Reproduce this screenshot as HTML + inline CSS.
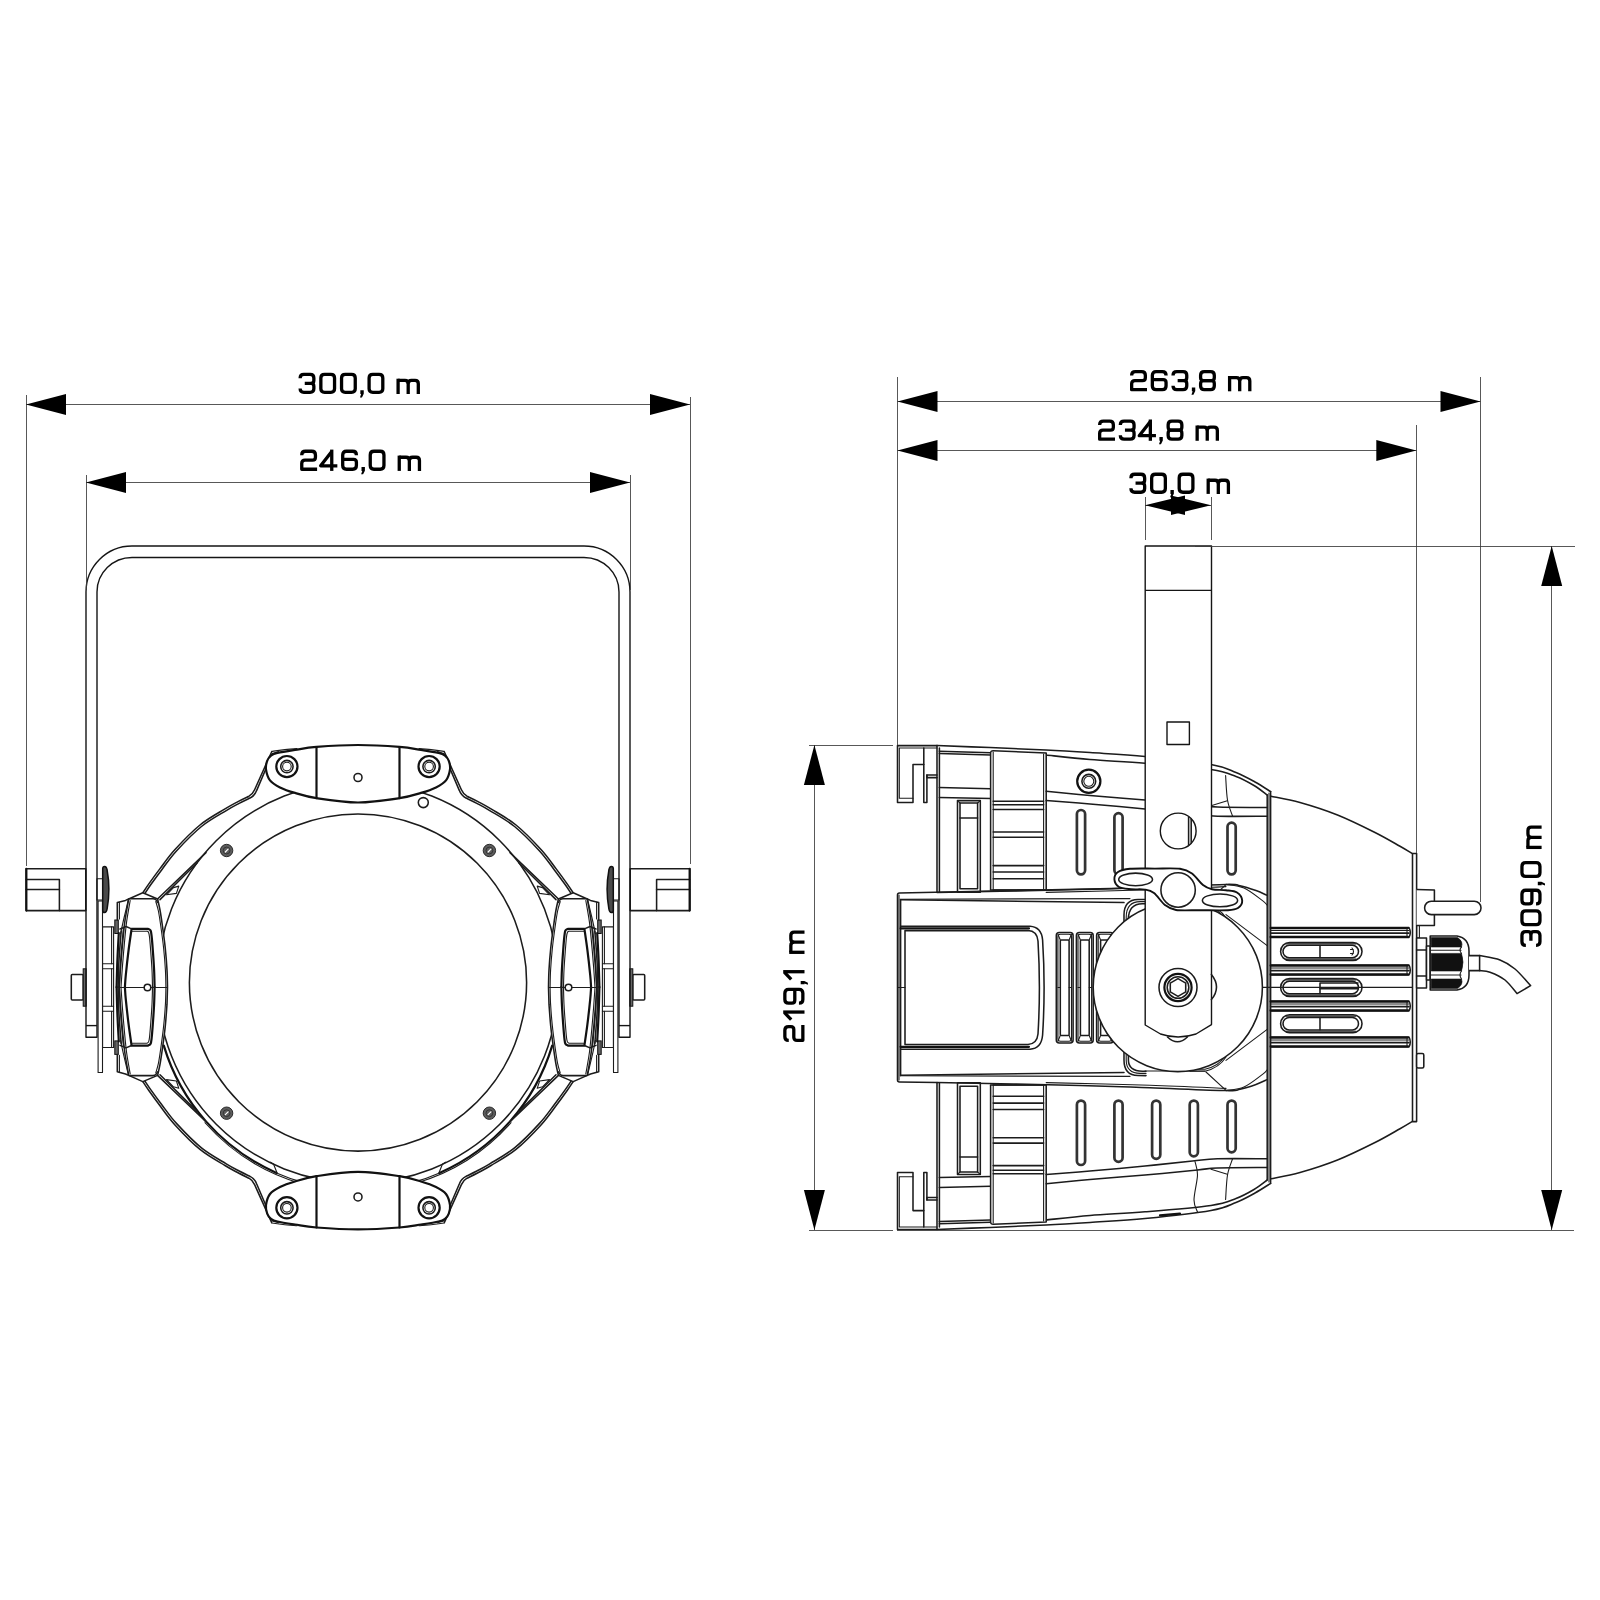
<!DOCTYPE html>
<html><head><meta charset="utf-8"><title>Dimensions</title><style>
html,body{margin:0;padding:0;background:#fff}
svg{display:block}
.m{fill:none;stroke:#1c1c1c;stroke-width:1.55;stroke-linejoin:round;stroke-linecap:round}
.t{fill:none;stroke:#1c1c1c;stroke-width:1.1;stroke-linejoin:round;stroke-linecap:round}
.k{fill:none;stroke:#111;stroke-width:2.2;stroke-linejoin:round;stroke-linecap:round}
.w{fill:#fff;stroke:#1c1c1c;stroke-width:1.55;stroke-linejoin:round}
.wk{fill:#fff;stroke:#111;stroke-width:2.2;stroke-linejoin:round}
.wt{fill:#fff;stroke:#1c1c1c;stroke-width:1.1;stroke-linejoin:round}
.g{fill:#666;stroke:#111;stroke-width:1}
.b{fill:#111;stroke:#111;stroke-width:.6}
.d{fill:none;stroke:#3a3a3a;stroke-width:.85}
.y{fill:none;stroke:#151515;stroke-width:1.4;stroke-linejoin:round}
.wy{fill:#fff;stroke:#151515;stroke-width:1.4;stroke-linejoin:round}
.a{fill:#000;stroke:none}
.s{fill:#fff;stroke:#333;stroke-width:2.7}
.n{fill:#fff;stroke:none}
.gl{fill:none;stroke:#000;stroke-width:3.3;stroke-linejoin:round;stroke-linecap:butt}
text{font-family:"Liberation Sans",sans-serif;font-size:31px;fill:#000;stroke:#000;stroke-width:.45}
</style></head>
<body>
<svg width="1600" height="1600" viewBox="0 0 1600 1600">
<rect class="n" x="0" y="0" width="1600" height="1600"/>
<g id="left-view">
<circle class="m" cx="358" cy="982.5" r="200.5"/>
<circle class="m" cx="358" cy="982.5" r="168.6"/>
<path class="k" d="M163.8,1045.63 A202.8,202.8 0 0 0 276.5,1172.9"/>
<path class="t" d="M276.5,1172.9 A202.8,202.8 0 0 0 303,1182.4"/>
<path class="t" d="M205,1122.74 A204.4,204.4 0 0 0 300,1183.2"/>
<path class="t" d="M273.6,1164.3 L277,1172.8"/>
<path class="t" d="M270.5,1162.2 L273.6,1164.3"/>
<path class="k" d="M552.2,1045.63 A202.8,202.8 0 0 1 439.5,1172.9"/>
<path class="t" d="M439.5,1172.9 A202.8,202.8 0 0 1 413,1182.4"/>
<path class="t" d="M511,1122.74 A204.4,204.4 0 0 1 416,1183.2"/>
<path class="t" d="M442.4,1164.3 L439,1172.8"/>
<path class="t" d="M445.5,1162.2 L442.4,1164.3"/>
<g><path class="m" d="M271.6,752 L254.6,789.8 Q252.8,794 249,796.2 C247.17,797.1 242,799.48 238,801.6 C234,803.72 231.33,805 225,808.9 C218.67,812.8 208.33,818.23 200,825 C191.67,831.77 181.67,842.23 175,849.5 C168.33,856.77 164.33,862.92 160,868.6 C155.67,874.28 151.87,879.57 149,883.6 C146.13,887.63 143.83,891.27 142.8,892.8"/>
<path class="m" d="M272.4,753.6 L256.6,790.6 Q254.8,795.6 250.04,798.02 C248.22,798.91 243.1,801.27 239.14,803.36 C235.18,805.46 232.53,806.73 226.26,810.58 C219.98,814.44 209.73,819.81 201.47,826.5 C193.2,833.2 183.29,843.57 176.68,850.76 C170.07,857.96 166.1,864.05 161.8,869.68 C157.5,875.31 153.73,880.54 150.88,884.53 C148.04,888.53 145.75,892.13 144.72,893.64"/>
<path class="t" d="M271.6,751.4 C273.5,751.15 278.77,750.37 283,749.9 C287.23,749.43 294.67,748.82 297,748.6"/>
<path class="t" d="M273.2,753.2 L278.5,751.6"/>
<path class="m" d="M157.8,898.8 L206,852.6"/>
<path class="m" d="M160,899.6 L197,863"/>
<path class="t" d="M166.5,894.8 L173.5,887.6 L178.8,886.1 L176.4,893.4Z"/></g>
<g transform="translate(716,0) scale(-1,1)"><path class="m" d="M271.6,752 L254.6,789.8 Q252.8,794 249,796.2 C247.17,797.1 242,799.48 238,801.6 C234,803.72 231.33,805 225,808.9 C218.67,812.8 208.33,818.23 200,825 C191.67,831.77 181.67,842.23 175,849.5 C168.33,856.77 164.33,862.92 160,868.6 C155.67,874.28 151.87,879.57 149,883.6 C146.13,887.63 143.83,891.27 142.8,892.8"/>
<path class="m" d="M272.4,753.6 L256.6,790.6 Q254.8,795.6 250.04,798.02 C248.22,798.91 243.1,801.27 239.14,803.36 C235.18,805.46 232.53,806.73 226.26,810.58 C219.98,814.44 209.73,819.81 201.47,826.5 C193.2,833.2 183.29,843.57 176.68,850.76 C170.07,857.96 166.1,864.05 161.8,869.68 C157.5,875.31 153.73,880.54 150.88,884.53 C148.04,888.53 145.75,892.13 144.72,893.64"/>
<path class="t" d="M271.6,751.4 C273.5,751.15 278.77,750.37 283,749.9 C287.23,749.43 294.67,748.82 297,748.6"/>
<path class="t" d="M273.2,753.2 L278.5,751.6"/>
<path class="m" d="M157.8,898.8 L206,852.6"/>
<path class="m" d="M160,899.6 L197,863"/>
<path class="t" d="M166.5,894.8 L173.5,887.6 L178.8,886.1 L176.4,893.4Z"/></g>
<g transform="translate(0,1974.4) scale(1,-1)"><path class="m" d="M271.6,752 L254.6,789.8 Q252.8,794 249,796.2 C247.17,797.1 242,799.48 238,801.6 C234,803.72 231.33,805 225,808.9 C218.67,812.8 208.33,818.23 200,825 C191.67,831.77 181.67,842.23 175,849.5 C168.33,856.77 164.33,862.92 160,868.6 C155.67,874.28 151.87,879.57 149,883.6 C146.13,887.63 143.83,891.27 142.8,892.8"/>
<path class="m" d="M272.4,753.6 L256.6,790.6 Q254.8,795.6 250.04,798.02 C248.22,798.91 243.1,801.27 239.14,803.36 C235.18,805.46 232.53,806.73 226.26,810.58 C219.98,814.44 209.73,819.81 201.47,826.5 C193.2,833.2 183.29,843.57 176.68,850.76 C170.07,857.96 166.1,864.05 161.8,869.68 C157.5,875.31 153.73,880.54 150.88,884.53 C148.04,888.53 145.75,892.13 144.72,893.64"/>
<path class="t" d="M271.6,751.4 C273.5,751.15 278.77,750.37 283,749.9 C287.23,749.43 294.67,748.82 297,748.6"/>
<path class="t" d="M273.2,753.2 L278.5,751.6"/>
<path class="m" d="M157.8,898.8 L206,852.6"/>
<path class="m" d="M160,899.6 L197,863"/>
<path class="t" d="M166.5,894.8 L173.5,887.6 L178.8,886.1 L176.4,893.4Z"/></g>
<g transform="translate(716,1974.4) scale(-1,-1)"><path class="m" d="M271.6,752 L254.6,789.8 Q252.8,794 249,796.2 C247.17,797.1 242,799.48 238,801.6 C234,803.72 231.33,805 225,808.9 C218.67,812.8 208.33,818.23 200,825 C191.67,831.77 181.67,842.23 175,849.5 C168.33,856.77 164.33,862.92 160,868.6 C155.67,874.28 151.87,879.57 149,883.6 C146.13,887.63 143.83,891.27 142.8,892.8"/>
<path class="m" d="M272.4,753.6 L256.6,790.6 Q254.8,795.6 250.04,798.02 C248.22,798.91 243.1,801.27 239.14,803.36 C235.18,805.46 232.53,806.73 226.26,810.58 C219.98,814.44 209.73,819.81 201.47,826.5 C193.2,833.2 183.29,843.57 176.68,850.76 C170.07,857.96 166.1,864.05 161.8,869.68 C157.5,875.31 153.73,880.54 150.88,884.53 C148.04,888.53 145.75,892.13 144.72,893.64"/>
<path class="t" d="M271.6,751.4 C273.5,751.15 278.77,750.37 283,749.9 C287.23,749.43 294.67,748.82 297,748.6"/>
<path class="t" d="M273.2,753.2 L278.5,751.6"/>
<path class="m" d="M157.8,898.8 L206,852.6"/>
<path class="m" d="M160,899.6 L197,863"/>
<path class="t" d="M166.5,894.8 L173.5,887.6 L178.8,886.1 L176.4,893.4Z"/></g>
<g><path class="wk" d="M358,745 C344.17,745 327,746.08 316.5,746.9 C306,747.72 301.5,748.9 295,749.9 C288.5,750.9 281.5,751.95 277.5,752.9 C273.5,753.85 272.72,754.28 271,755.6 C269.28,756.92 268.03,758.5 267.2,760.8 C266.37,763.1 265.53,766.13 266,769.4 C266.47,772.67 267.67,777.4 270,780.4 C272.33,783.4 275.83,785.32 280,787.4 C284.17,789.48 288.92,791.1 295,792.9 C301.08,794.7 306,796.6 316.5,798.2 C327,799.8 344.17,802.5 358,802.5 C371.83,802.5 389,799.8 399.5,798.2 C410,796.6 414.92,794.7 421,792.9 C427.08,791.1 431.83,789.48 436,787.4 C440.17,785.32 443.67,783.4 446,780.4 C448.33,777.4 449.53,772.67 450,769.4 C450.47,766.13 449.63,763.1 448.8,760.8 C447.97,758.5 446.72,756.92 445,755.6 C443.28,754.28 442.5,753.85 438.5,752.9 C434.5,751.95 427.5,750.9 421,749.9 C414.5,748.9 410,747.72 399.5,746.9 C389,746.08 371.83,745 358,745Z"/>
<path class="k" d="M316.5,747 L316.5,798.2"/>
<path class="k" d="M399.5,747 L399.5,798.2"/>
<circle class="k" cx="286.9" cy="766.6" r="10.6"/>
<circle class="m" cx="286.9" cy="766.6" r="6.2"/>
<circle class="t" cx="286.9" cy="766.6" r="4.3"/>
<circle class="k" cx="429.1" cy="766.6" r="10.6"/>
<circle class="m" cx="429.1" cy="766.6" r="6.2"/>
<circle class="t" cx="429.1" cy="766.6" r="4.3"/>
<circle class="m" cx="358" cy="777.5" r="4"/></g>
<g transform="translate(0,1974.4) scale(1,-1)"><path class="wk" d="M358,745 C344.17,745 327,746.08 316.5,746.9 C306,747.72 301.5,748.9 295,749.9 C288.5,750.9 281.5,751.95 277.5,752.9 C273.5,753.85 272.72,754.28 271,755.6 C269.28,756.92 268.03,758.5 267.2,760.8 C266.37,763.1 265.53,766.13 266,769.4 C266.47,772.67 267.67,777.4 270,780.4 C272.33,783.4 275.83,785.32 280,787.4 C284.17,789.48 288.92,791.1 295,792.9 C301.08,794.7 306,796.6 316.5,798.2 C327,799.8 344.17,802.5 358,802.5 C371.83,802.5 389,799.8 399.5,798.2 C410,796.6 414.92,794.7 421,792.9 C427.08,791.1 431.83,789.48 436,787.4 C440.17,785.32 443.67,783.4 446,780.4 C448.33,777.4 449.53,772.67 450,769.4 C450.47,766.13 449.63,763.1 448.8,760.8 C447.97,758.5 446.72,756.92 445,755.6 C443.28,754.28 442.5,753.85 438.5,752.9 C434.5,751.95 427.5,750.9 421,749.9 C414.5,748.9 410,747.72 399.5,746.9 C389,746.08 371.83,745 358,745Z"/>
<path class="k" d="M316.5,747 L316.5,798.2"/>
<path class="k" d="M399.5,747 L399.5,798.2"/>
<circle class="k" cx="286.9" cy="766.6" r="10.6"/>
<circle class="m" cx="286.9" cy="766.6" r="6.2"/>
<circle class="t" cx="286.9" cy="766.6" r="4.3"/>
<circle class="k" cx="429.1" cy="766.6" r="10.6"/>
<circle class="m" cx="429.1" cy="766.6" r="6.2"/>
<circle class="t" cx="429.1" cy="766.6" r="4.3"/>
<circle class="m" cx="358" cy="777.5" r="4"/></g>
<circle class="w" cx="423.3" cy="802.6" r="5"/>
<circle cx="226.6" cy="850.5" r="6.2" fill="#5c5c5c" stroke="#2a2a2a" stroke-width="1"/>
<circle cx="226.6" cy="850.5" r="3.4" fill="none" stroke="#2a2a2a" stroke-width=".8"/>
<path d="M225.29999999999998,852.0 L228.1,849.2" stroke="#fff" stroke-width="1.2" stroke-linecap="round"/>
<circle cx="226.6" cy="1113.2" r="6.2" fill="#5c5c5c" stroke="#2a2a2a" stroke-width="1"/>
<circle cx="226.6" cy="1113.2" r="3.4" fill="none" stroke="#2a2a2a" stroke-width=".8"/>
<path d="M225.29999999999998,1114.7 L228.1,1111.9" stroke="#fff" stroke-width="1.2" stroke-linecap="round"/>
<circle cx="489.4" cy="850.5" r="6.2" fill="#5c5c5c" stroke="#2a2a2a" stroke-width="1"/>
<circle cx="489.4" cy="850.5" r="3.4" fill="none" stroke="#2a2a2a" stroke-width=".8"/>
<path d="M488.09999999999997,852.0 L490.9,849.2" stroke="#fff" stroke-width="1.2" stroke-linecap="round"/>
<circle cx="489.4" cy="1113.2" r="6.2" fill="#5c5c5c" stroke="#2a2a2a" stroke-width="1"/>
<circle cx="489.4" cy="1113.2" r="3.4" fill="none" stroke="#2a2a2a" stroke-width=".8"/>
<path d="M488.09999999999997,1114.7 L490.9,1111.9" stroke="#fff" stroke-width="1.2" stroke-linecap="round"/>
<g><path class="w" d="M119.2,987.2 C119.43,983.82 120.05,974.03 120.6,966.9 C121.15,959.77 121.8,951.9 122.5,944.4 C123.2,936.9 123.77,929.47 124.8,921.9 C125.83,914.33 128.05,902.82 128.7,899 L142.8,892.8 L157.6,899 C158,900.83 159.22,905.67 160,910 C160.78,914.33 161.43,918.75 162.3,925 C163.17,931.25 164.42,940 165.2,947.5 C165.98,955 166.62,963.38 167,970 C167.38,976.62 167.42,984.33 167.5,987.2L167,1004.4 C166.7,1008.15 165.98,1019.4 165.2,1026.9 C164.42,1034.4 163.17,1043.15 162.3,1049.4 C161.43,1055.65 160.78,1060.07 160,1064.4 C159.22,1068.73 158,1073.57 157.6,1075.4 L142.8,1081.6 L128.7,1075.4 C128.05,1071.58 125.83,1060.07 124.8,1052.5 C123.77,1044.93 123.2,1037.5 122.5,1030 C121.8,1022.5 121.15,1014.63 120.6,1007.5 C120.05,1000.37 119.43,990.58 119.2,987.2Z"/>
<g><path class="m" d="M129.6,898.8 L153,898.8 Q156.5,899 157.4,902.5"/>
<path class="t" d="M155.8,901.5 C156.23,903.08 157.58,907 158.4,911 C159.22,915 159.83,919.33 160.7,925.5 C161.57,931.67 162.82,940.58 163.6,948 C164.38,955.42 165.02,963.47 165.4,970 C165.78,976.53 165.82,984.33 165.9,987.2"/>
<path class="t" d="M121,987.2 C121.23,983.82 121.85,974.03 122.4,966.9 C122.95,959.77 123.6,951.9 124.3,944.4 C125,936.9 125.62,929.22 126.6,921.9 C127.58,914.58 129.6,904.07 130.2,900.5"/>
<path class="k" d="M131.6,928.8 C131.1,932.33 129.57,942.3 128.6,950 C127.63,957.7 126.42,968.8 125.8,975 C125.18,981.2 125.05,985.17 124.9,987.2 M131.6,928.8 L148,928.8 M148,928.8 C148.43,929.1 150,929.4 150.6,930.6 C151.2,931.8 151.23,932.77 151.6,936 C151.97,939.23 152.38,944.33 152.8,950 C153.22,955.67 153.8,963.8 154.1,970 C154.4,976.2 154.52,984.33 154.6,987.2"/>
<path class="t" d="M132.5,931.2 L147,931.2 M147,931.2 C147.27,931.42 148.18,931.53 148.6,932.5 C149.02,933.47 149.15,933.92 149.5,937 C149.85,940.08 150.28,945.5 150.7,951 C151.12,956.5 151.7,963.97 152,970 C152.3,976.03 152.42,984.33 152.5,987.2"/>
<rect class="g" x="114.8" y="920" width="3.5" height="13.5"/>
<path class="m" d="M117.3,920 L117.3,902.6 L125.5,900.4 L128.6,899"/>
<path class="t" d="M119.4,902.2 L119.4,919"/>
<path class="t" d="M128.3,900 C127.58,903 125.3,912.33 124,918 C122.7,923.67 121.08,931.33 120.5,934"/>
<path class="k" d="M118.8,933 C118.57,937.5 117.77,950.97 117.4,960 C117.03,969.03 116.73,982.67 116.6,987.2"/>
<path class="m" d="M121.2,931 C120.83,935.83 119.52,950.63 119,960 C118.48,969.37 118.25,982.67 118.1,987.2"/>
<path class="t" d="M123.4,928 C122.93,933.33 121.27,950.13 120.6,960 C119.93,969.87 119.6,982.67 119.4,987.2"/>
<path class="m" d="M120,929 L126,926.5 L131,928.6"/></g>
<g transform="translate(0,1974.4) scale(1,-1)"><path class="m" d="M129.6,898.8 L153,898.8 Q156.5,899 157.4,902.5"/>
<path class="t" d="M155.8,901.5 C156.23,903.08 157.58,907 158.4,911 C159.22,915 159.83,919.33 160.7,925.5 C161.57,931.67 162.82,940.58 163.6,948 C164.38,955.42 165.02,963.47 165.4,970 C165.78,976.53 165.82,984.33 165.9,987.2"/>
<path class="t" d="M121,987.2 C121.23,983.82 121.85,974.03 122.4,966.9 C122.95,959.77 123.6,951.9 124.3,944.4 C125,936.9 125.62,929.22 126.6,921.9 C127.58,914.58 129.6,904.07 130.2,900.5"/>
<path class="k" d="M131.6,928.8 C131.1,932.33 129.57,942.3 128.6,950 C127.63,957.7 126.42,968.8 125.8,975 C125.18,981.2 125.05,985.17 124.9,987.2 M131.6,928.8 L148,928.8 M148,928.8 C148.43,929.1 150,929.4 150.6,930.6 C151.2,931.8 151.23,932.77 151.6,936 C151.97,939.23 152.38,944.33 152.8,950 C153.22,955.67 153.8,963.8 154.1,970 C154.4,976.2 154.52,984.33 154.6,987.2"/>
<path class="t" d="M132.5,931.2 L147,931.2 M147,931.2 C147.27,931.42 148.18,931.53 148.6,932.5 C149.02,933.47 149.15,933.92 149.5,937 C149.85,940.08 150.28,945.5 150.7,951 C151.12,956.5 151.7,963.97 152,970 C152.3,976.03 152.42,984.33 152.5,987.2"/>
<rect class="g" x="114.8" y="920" width="3.5" height="13.5"/>
<path class="m" d="M117.3,920 L117.3,902.6 L125.5,900.4 L128.6,899"/>
<path class="t" d="M119.4,902.2 L119.4,919"/>
<path class="t" d="M128.3,900 C127.58,903 125.3,912.33 124,918 C122.7,923.67 121.08,931.33 120.5,934"/>
<path class="k" d="M118.8,933 C118.57,937.5 117.77,950.97 117.4,960 C117.03,969.03 116.73,982.67 116.6,987.2"/>
<path class="m" d="M121.2,931 C120.83,935.83 119.52,950.63 119,960 C118.48,969.37 118.25,982.67 118.1,987.2"/>
<path class="t" d="M123.4,928 C122.93,933.33 121.27,950.13 120.6,960 C119.93,969.87 119.6,982.67 119.4,987.2"/>
<path class="m" d="M120,929 L126,926.5 L131,928.6"/></g>
<path class="t" d="M120,987.5 L167.4,987.5"/>
<circle class="w" cx="147.5" cy="987.5" r="3.3"/>
<rect class="wt" x="98.1" y="901" width="4.4" height="171.5"/>
<rect class="wt" x="102.6" y="926.9" width="11" height="120.6"/>
<path class="t" d="M102.6,963.8 L113.6,963.8"/>
<path class="t" d="M102.6,968.8 L113.6,968.8"/>
<path class="t" d="M102.6,1006.2 L113.6,1006.2"/>
<path class="t" d="M102.6,1011.2 L113.6,1011.2"/>
<path class="t" d="M111.6,926.9 L111.6,963.8"/>
<path class="t" d="M111.6,968.8 L111.6,1006.2"/>
<path class="t" d="M111.6,1011.2 L111.6,1047.5"/>
<rect class="wt" x="96.9" y="878.8" width="5.7" height="21.2"/>
<path class="g" d="M104.6,866.4 Q102.7,866.4 102.7,868.6 L102.7,910.4 Q102.7,912.5 104.6,912.5 Q106.6,912.5 107.1,909 C109.7,895 109.7,884 107.1,870 Q106.6,866.4 104.6,866.4Z" style="fill:#4a4a4a;stroke-width:1.5"/>
<rect class="w" x="71.3" y="974.4" width="11.9" height="25.6" rx="1"/>
<rect class="g" x="83.2" y="968.8" width="3" height="37.4"/>
<rect class="w" x="26.3" y="868.8" width="59.5" height="41.8"/>
<path class="m" d="M26.3,879.4 L59.4,879.4 L59.4,910.6"/>
<path class="m" d="M26.3,889.4 L59.4,889.4"/>
<path class="k" d="M26.3,868.8 L26.3,910.6"/></g>
<g transform="translate(716,0) scale(-1,1)"><path class="w" d="M119.2,987.2 C119.43,983.82 120.05,974.03 120.6,966.9 C121.15,959.77 121.8,951.9 122.5,944.4 C123.2,936.9 123.77,929.47 124.8,921.9 C125.83,914.33 128.05,902.82 128.7,899 L142.8,892.8 L157.6,899 C158,900.83 159.22,905.67 160,910 C160.78,914.33 161.43,918.75 162.3,925 C163.17,931.25 164.42,940 165.2,947.5 C165.98,955 166.62,963.38 167,970 C167.38,976.62 167.42,984.33 167.5,987.2L167,1004.4 C166.7,1008.15 165.98,1019.4 165.2,1026.9 C164.42,1034.4 163.17,1043.15 162.3,1049.4 C161.43,1055.65 160.78,1060.07 160,1064.4 C159.22,1068.73 158,1073.57 157.6,1075.4 L142.8,1081.6 L128.7,1075.4 C128.05,1071.58 125.83,1060.07 124.8,1052.5 C123.77,1044.93 123.2,1037.5 122.5,1030 C121.8,1022.5 121.15,1014.63 120.6,1007.5 C120.05,1000.37 119.43,990.58 119.2,987.2Z"/>
<g><path class="m" d="M129.6,898.8 L153,898.8 Q156.5,899 157.4,902.5"/>
<path class="t" d="M155.8,901.5 C156.23,903.08 157.58,907 158.4,911 C159.22,915 159.83,919.33 160.7,925.5 C161.57,931.67 162.82,940.58 163.6,948 C164.38,955.42 165.02,963.47 165.4,970 C165.78,976.53 165.82,984.33 165.9,987.2"/>
<path class="t" d="M121,987.2 C121.23,983.82 121.85,974.03 122.4,966.9 C122.95,959.77 123.6,951.9 124.3,944.4 C125,936.9 125.62,929.22 126.6,921.9 C127.58,914.58 129.6,904.07 130.2,900.5"/>
<path class="k" d="M131.6,928.8 C131.1,932.33 129.57,942.3 128.6,950 C127.63,957.7 126.42,968.8 125.8,975 C125.18,981.2 125.05,985.17 124.9,987.2 M131.6,928.8 L148,928.8 M148,928.8 C148.43,929.1 150,929.4 150.6,930.6 C151.2,931.8 151.23,932.77 151.6,936 C151.97,939.23 152.38,944.33 152.8,950 C153.22,955.67 153.8,963.8 154.1,970 C154.4,976.2 154.52,984.33 154.6,987.2"/>
<path class="t" d="M132.5,931.2 L147,931.2 M147,931.2 C147.27,931.42 148.18,931.53 148.6,932.5 C149.02,933.47 149.15,933.92 149.5,937 C149.85,940.08 150.28,945.5 150.7,951 C151.12,956.5 151.7,963.97 152,970 C152.3,976.03 152.42,984.33 152.5,987.2"/>
<rect class="g" x="114.8" y="920" width="3.5" height="13.5"/>
<path class="m" d="M117.3,920 L117.3,902.6 L125.5,900.4 L128.6,899"/>
<path class="t" d="M119.4,902.2 L119.4,919"/>
<path class="t" d="M128.3,900 C127.58,903 125.3,912.33 124,918 C122.7,923.67 121.08,931.33 120.5,934"/>
<path class="k" d="M118.8,933 C118.57,937.5 117.77,950.97 117.4,960 C117.03,969.03 116.73,982.67 116.6,987.2"/>
<path class="m" d="M121.2,931 C120.83,935.83 119.52,950.63 119,960 C118.48,969.37 118.25,982.67 118.1,987.2"/>
<path class="t" d="M123.4,928 C122.93,933.33 121.27,950.13 120.6,960 C119.93,969.87 119.6,982.67 119.4,987.2"/>
<path class="m" d="M120,929 L126,926.5 L131,928.6"/></g>
<g transform="translate(0,1974.4) scale(1,-1)"><path class="m" d="M129.6,898.8 L153,898.8 Q156.5,899 157.4,902.5"/>
<path class="t" d="M155.8,901.5 C156.23,903.08 157.58,907 158.4,911 C159.22,915 159.83,919.33 160.7,925.5 C161.57,931.67 162.82,940.58 163.6,948 C164.38,955.42 165.02,963.47 165.4,970 C165.78,976.53 165.82,984.33 165.9,987.2"/>
<path class="t" d="M121,987.2 C121.23,983.82 121.85,974.03 122.4,966.9 C122.95,959.77 123.6,951.9 124.3,944.4 C125,936.9 125.62,929.22 126.6,921.9 C127.58,914.58 129.6,904.07 130.2,900.5"/>
<path class="k" d="M131.6,928.8 C131.1,932.33 129.57,942.3 128.6,950 C127.63,957.7 126.42,968.8 125.8,975 C125.18,981.2 125.05,985.17 124.9,987.2 M131.6,928.8 L148,928.8 M148,928.8 C148.43,929.1 150,929.4 150.6,930.6 C151.2,931.8 151.23,932.77 151.6,936 C151.97,939.23 152.38,944.33 152.8,950 C153.22,955.67 153.8,963.8 154.1,970 C154.4,976.2 154.52,984.33 154.6,987.2"/>
<path class="t" d="M132.5,931.2 L147,931.2 M147,931.2 C147.27,931.42 148.18,931.53 148.6,932.5 C149.02,933.47 149.15,933.92 149.5,937 C149.85,940.08 150.28,945.5 150.7,951 C151.12,956.5 151.7,963.97 152,970 C152.3,976.03 152.42,984.33 152.5,987.2"/>
<rect class="g" x="114.8" y="920" width="3.5" height="13.5"/>
<path class="m" d="M117.3,920 L117.3,902.6 L125.5,900.4 L128.6,899"/>
<path class="t" d="M119.4,902.2 L119.4,919"/>
<path class="t" d="M128.3,900 C127.58,903 125.3,912.33 124,918 C122.7,923.67 121.08,931.33 120.5,934"/>
<path class="k" d="M118.8,933 C118.57,937.5 117.77,950.97 117.4,960 C117.03,969.03 116.73,982.67 116.6,987.2"/>
<path class="m" d="M121.2,931 C120.83,935.83 119.52,950.63 119,960 C118.48,969.37 118.25,982.67 118.1,987.2"/>
<path class="t" d="M123.4,928 C122.93,933.33 121.27,950.13 120.6,960 C119.93,969.87 119.6,982.67 119.4,987.2"/>
<path class="m" d="M120,929 L126,926.5 L131,928.6"/></g>
<path class="t" d="M120,987.5 L167.4,987.5"/>
<circle class="w" cx="147.5" cy="987.5" r="3.3"/>
<rect class="wt" x="98.1" y="901" width="4.4" height="171.5"/>
<rect class="wt" x="102.6" y="926.9" width="11" height="120.6"/>
<path class="t" d="M102.6,963.8 L113.6,963.8"/>
<path class="t" d="M102.6,968.8 L113.6,968.8"/>
<path class="t" d="M102.6,1006.2 L113.6,1006.2"/>
<path class="t" d="M102.6,1011.2 L113.6,1011.2"/>
<path class="t" d="M111.6,926.9 L111.6,963.8"/>
<path class="t" d="M111.6,968.8 L111.6,1006.2"/>
<path class="t" d="M111.6,1011.2 L111.6,1047.5"/>
<rect class="wt" x="96.9" y="878.8" width="5.7" height="21.2"/>
<path class="g" d="M104.6,866.4 Q102.7,866.4 102.7,868.6 L102.7,910.4 Q102.7,912.5 104.6,912.5 Q106.6,912.5 107.1,909 C109.7,895 109.7,884 107.1,870 Q106.6,866.4 104.6,866.4Z" style="fill:#4a4a4a;stroke-width:1.5"/>
<rect class="w" x="71.3" y="974.4" width="11.9" height="25.6" rx="1"/>
<rect class="g" x="83.2" y="968.8" width="3" height="37.4"/>
<rect class="w" x="26.3" y="868.8" width="59.5" height="41.8"/>
<path class="m" d="M26.3,879.4 L59.4,879.4 L59.4,910.6"/>
<path class="m" d="M26.3,889.4 L59.4,889.4"/>
<path class="k" d="M26.3,868.8 L26.3,910.6"/></g>
<path class="y" d="M86,1037.2 L86,592 A46,46 0 0 1 132,546 L584,546 A46,46 0 0 1 630,592 L630,1037.2 L619,1037.2 L619,592 A35,34.5 0 0 0 584,557.5 L132,557.5 A35,34.5 0 0 0 97,592 L97,1037.2Z"/>
<path class="y" d="M86,1025.6 L97,1025.6"/>
<path class="y" d="M619,1025.6 L630,1025.6"/>
</g>
<g id="right-view">
<g><path class="m" d="M937,745.6 L897.5,745.6 L897.5,802.5 L913,802.5 L913,764.4 L923.8,764.4"/>
<path class="t" d="M937,748 L899.3,748 L899.3,798.2 L913,798.2"/>
<path class="m" d="M923.8,748 L923.8,802.5 L926.9,802.5 L926.9,775"/>
<path class="m" d="M937,775 L926.9,775 L926.9,777.6 L937,777.6"/>
<path class="m" d="M937,745.6 L937,892.3"/>
<path class="m" d="M939.4,748 L939.4,892.3"/>
<path class="m" d="M937,745.6 C945.83,745.93 971.83,746.87 990,747.6 C1008.17,748.33 1029.33,749.17 1046,750 C1062.67,750.83 1073.5,751.53 1090,752.6 C1106.5,753.67 1124.83,754.43 1145,756.4 C1165.17,758.37 1195.83,761.72 1211,764.4 C1226.17,767.08 1228.67,769.57 1236,772.5 C1243.33,775.43 1249.23,778.82 1255,782 C1260.77,785.18 1268,790 1270.6,791.6"/>
<path class="m" d="M1046,755 C1053.33,755.77 1073.5,758.23 1090,759.6 C1106.5,760.97 1124.83,761.53 1145,763.2 C1165.17,764.87 1195.83,767.38 1211,769.6 C1226.17,771.82 1228.83,773.85 1236,776.5 C1243.17,779.15 1248.8,782.42 1254,785.5 C1259.2,788.58 1265,793.42 1267.2,795"/>
<path class="m" d="M939.4,751.2 L990.6,752.8"/>
<path class="m" d="M939.4,753.6 L990.6,755"/>
<path class="m" d="M939.4,787.5 L990.6,788.8"/>
<path class="m" d="M939.4,797.5 L990.6,798.6"/>
<path class="w" d="M990.6,890 L990.6,753.2 Q990.6,750.6 993.4,750.7 L1046.2,753 L1046.2,890"/>
<path class="t" d="M993.2,752 L993.2,890"/>
<path class="t" d="M1043.6,754 L1043.6,890"/>
<path class="m" d="M993.2,801.3 L1043.6,801.3"/>
<path class="m" d="M993.2,804.8 L1043.6,804.8"/>
<path class="m" d="M993.2,809.4 L1043.6,809.4"/>
<path class="m" d="M993.2,831.9 L1043.6,831.9"/>
<path class="m" d="M993.2,837.3 L1043.6,837.3"/>
<path class="m" d="M993.2,865.6 L1043.6,865.6"/>
<path class="m" d="M993.2,871.9 L1043.6,871.9"/>
<path class="m" d="M993.2,878.8 L1043.6,878.8"/>
<path class="m" d="M993.2,890 L1043.6,890"/>
<path class="m" d="M990.6,890 L1046.2,890"/>
<rect class="m" x="957.5" y="800.6" width="22.8" height="91.7"/>
<rect class="m" x="960" y="803" width="17.6" height="85.8"/>
<path class="m" d="M960,818 L977.6,818"/>
<path class="t" d="M957.5,800.6 L960,803"/>
<path class="t" d="M980.3,800.6 L977.6,803"/>
<path class="m" d="M1046.2,791.3 C1053.5,792 1073.53,794.05 1090,795.5 C1106.47,796.95 1127.08,798.42 1145,800 C1162.92,801.58 1185.42,803.83 1197.5,805 C1209.58,806.17 1205.88,806.58 1217.5,807 C1229.12,807.42 1258.92,807.42 1267.2,807.5"/>
<path class="m" d="M1046.2,800.6 C1053.5,801.17 1073.53,802.6 1090,804 C1106.47,805.4 1127.92,807.33 1145,809 C1162.08,810.67 1180.42,812.8 1192.5,814 C1204.58,815.2 1205.05,815.83 1217.5,816.2 C1229.95,816.57 1258.92,816.2 1267.2,816.2"/>
<path class="t" d="M1195,813.5 C1195.42,811.25 1197.67,806.42 1197.5,800 C1197.33,793.58 1194,781.17 1194,775 C1194,768.83 1196.92,765 1197.5,763"/>
<path class="t" d="M1232.5,816 C1231.67,813.33 1228.65,806.75 1227.5,800 C1226.35,793.25 1225.92,779.58 1225.6,775.5"/>
<path class="t" d="M1211,805.8 L1227.3,800.8"/>
<rect class="s" x="1076.9" y="810" width="8.2" height="64.4" rx="4.1"/>
<rect class="s" x="1114.4" y="813.2" width="8.2" height="61.2" rx="4.1"/>
<rect class="s" x="1152.1" y="816.2" width="8.2" height="58.2" rx="4.1"/>
<rect class="s" x="1189.7" y="818.7" width="8.2" height="55.7" rx="4.1"/>
<rect class="s" x="1227.5" y="822.7" width="8.2" height="51.7" rx="4.1"/>
<path class="m" d="M937,892.4 C960.83,891.93 1044.5,890.47 1080,889.6 C1115.5,888.73 1125.67,888.07 1150,887.2 C1174.33,886.33 1211,884.63 1226,884.4 C1241,884.17 1235,884.77 1240,885.8 C1245,886.83 1251.47,889 1256,890.6 C1260.53,892.2 1265.33,894.6 1267.2,895.4"/>
<path class="t" d="M1046.2,892.4 C1063.5,891.97 1120.03,890.77 1150,889.8 C1179.97,888.83 1213.33,887.13 1226,886.6"/>
<path class="t" d="M1226,884.4 C1229,885 1237.92,885.3 1244,888 C1250.08,890.7 1258.63,897.73 1262.5,900.6 C1266.37,903.47 1266.42,904.43 1267.2,905.2"/>
<path class="t" d="M1206,903 L1226,884.6"/>
<path class="m" d="M1271,796.3 C1275.83,797.33 1288.92,799.38 1300,802.5 C1311.08,805.62 1325,810 1337.5,815 C1350,820 1364.58,827.28 1375,832.5 C1385.42,837.72 1393.83,842.82 1400,846.3 C1406.17,849.78 1410,852.22 1412,853.4"/></g>
<g transform="translate(0,1975) scale(1,-1)"><path class="m" d="M937,745.6 L897.5,745.6 L897.5,802.5 L913,802.5 L913,764.4 L923.8,764.4"/>
<path class="t" d="M937,748 L899.3,748 L899.3,798.2 L913,798.2"/>
<path class="m" d="M923.8,748 L923.8,802.5 L926.9,802.5 L926.9,775"/>
<path class="m" d="M937,775 L926.9,775 L926.9,777.6 L937,777.6"/>
<path class="m" d="M937,745.6 L937,892.3"/>
<path class="m" d="M939.4,748 L939.4,892.3"/>
<path class="m" d="M937,745.6 C945.83,745.93 971.83,746.87 990,747.6 C1008.17,748.33 1029.33,749.17 1046,750 C1062.67,750.83 1073.5,751.53 1090,752.6 C1106.5,753.67 1124.83,754.43 1145,756.4 C1165.17,758.37 1195.83,761.72 1211,764.4 C1226.17,767.08 1228.67,769.57 1236,772.5 C1243.33,775.43 1249.23,778.82 1255,782 C1260.77,785.18 1268,790 1270.6,791.6"/>
<path class="m" d="M1046,755 C1053.33,755.77 1073.5,758.23 1090,759.6 C1106.5,760.97 1124.83,761.53 1145,763.2 C1165.17,764.87 1195.83,767.38 1211,769.6 C1226.17,771.82 1228.83,773.85 1236,776.5 C1243.17,779.15 1248.8,782.42 1254,785.5 C1259.2,788.58 1265,793.42 1267.2,795"/>
<path class="m" d="M939.4,751.2 L990.6,752.8"/>
<path class="m" d="M939.4,753.6 L990.6,755"/>
<path class="m" d="M939.4,787.5 L990.6,788.8"/>
<path class="m" d="M939.4,797.5 L990.6,798.6"/>
<path class="w" d="M990.6,890 L990.6,753.2 Q990.6,750.6 993.4,750.7 L1046.2,753 L1046.2,890"/>
<path class="t" d="M993.2,752 L993.2,890"/>
<path class="t" d="M1043.6,754 L1043.6,890"/>
<path class="m" d="M993.2,801.3 L1043.6,801.3"/>
<path class="m" d="M993.2,804.8 L1043.6,804.8"/>
<path class="m" d="M993.2,809.4 L1043.6,809.4"/>
<path class="m" d="M993.2,831.9 L1043.6,831.9"/>
<path class="m" d="M993.2,837.3 L1043.6,837.3"/>
<path class="m" d="M993.2,865.6 L1043.6,865.6"/>
<path class="m" d="M993.2,871.9 L1043.6,871.9"/>
<path class="m" d="M993.2,878.8 L1043.6,878.8"/>
<path class="m" d="M993.2,890 L1043.6,890"/>
<path class="m" d="M990.6,890 L1046.2,890"/>
<rect class="m" x="957.5" y="800.6" width="22.8" height="91.7"/>
<rect class="m" x="960" y="803" width="17.6" height="85.8"/>
<path class="m" d="M960,818 L977.6,818"/>
<path class="t" d="M957.5,800.6 L960,803"/>
<path class="t" d="M980.3,800.6 L977.6,803"/>
<path class="m" d="M1046.2,791.3 C1053.5,792 1073.53,794.05 1090,795.5 C1106.47,796.95 1127.08,798.42 1145,800 C1162.92,801.58 1185.42,803.83 1197.5,805 C1209.58,806.17 1205.88,806.58 1217.5,807 C1229.12,807.42 1258.92,807.42 1267.2,807.5"/>
<path class="m" d="M1046.2,800.6 C1053.5,801.17 1073.53,802.6 1090,804 C1106.47,805.4 1127.92,807.33 1145,809 C1162.08,810.67 1180.42,812.8 1192.5,814 C1204.58,815.2 1205.05,815.83 1217.5,816.2 C1229.95,816.57 1258.92,816.2 1267.2,816.2"/>
<path class="t" d="M1195,813.5 C1195.42,811.25 1197.67,806.42 1197.5,800 C1197.33,793.58 1194,781.17 1194,775 C1194,768.83 1196.92,765 1197.5,763"/>
<path class="t" d="M1232.5,816 C1231.67,813.33 1228.65,806.75 1227.5,800 C1226.35,793.25 1225.92,779.58 1225.6,775.5"/>
<path class="t" d="M1211,805.8 L1227.3,800.8"/>
<rect class="s" x="1076.9" y="810" width="8.2" height="64.4" rx="4.1"/>
<rect class="s" x="1114.4" y="813.2" width="8.2" height="61.2" rx="4.1"/>
<rect class="s" x="1152.1" y="816.2" width="8.2" height="58.2" rx="4.1"/>
<rect class="s" x="1189.7" y="818.7" width="8.2" height="55.7" rx="4.1"/>
<rect class="s" x="1227.5" y="822.7" width="8.2" height="51.7" rx="4.1"/>
<path class="m" d="M937,892.4 C960.83,891.93 1044.5,890.47 1080,889.6 C1115.5,888.73 1125.67,888.07 1150,887.2 C1174.33,886.33 1211,884.63 1226,884.4 C1241,884.17 1235,884.77 1240,885.8 C1245,886.83 1251.47,889 1256,890.6 C1260.53,892.2 1265.33,894.6 1267.2,895.4"/>
<path class="t" d="M1046.2,892.4 C1063.5,891.97 1120.03,890.77 1150,889.8 C1179.97,888.83 1213.33,887.13 1226,886.6"/>
<path class="t" d="M1226,884.4 C1229,885 1237.92,885.3 1244,888 C1250.08,890.7 1258.63,897.73 1262.5,900.6 C1266.37,903.47 1266.42,904.43 1267.2,905.2"/>
<path class="t" d="M1206,903 L1226,884.6"/>
<path class="m" d="M1271,796.3 C1275.83,797.33 1288.92,799.38 1300,802.5 C1311.08,805.62 1325,810 1337.5,815 C1350,820 1364.58,827.28 1375,832.5 C1385.42,837.72 1393.83,842.82 1400,846.3 C1406.17,849.78 1410,852.22 1412,853.4"/></g>
<circle class="k" cx="1088.8" cy="781.3" r="11.6"/>
<circle class="m" cx="1088.8" cy="781.3" r="6.9"/>
<circle class="t" cx="1088.8" cy="781.3" r="5"/>
<path class="k" d="M1160,1215.4 L1180,1213.6"/>
<path class="m" d="M1267.2,795 L1267.2,1180"/>
<path class="m" d="M1270.6,791.6 L1270.6,1183.4"/>
<path class="t" d="M1269,793 L1269,1182"/>
<path class="m" d="M1135,888 L899.5,893 Q897.5,893 897.5,895 L897.5,1080 Q897.5,1082 899.5,1082 L937,1082.6"/>
<path class="m" d="M900.6,899.4 L900.6,1075.6"/>
<path class="t" d="M899,895 L899,1080"/>
<path class="t" d="M900.6,899.2 L1130,898.6"/>
<path class="m" d="M900.6,899.8 L1124,902.6"/>
<path class="t" d="M900.6,1075.8 L1130,1076.4"/>
<path class="m" d="M900.6,1075.2 L1124,1072.4"/>
<path class="m" d="M900.6,926.3 L1030,926.3 Q1041.5,927 1042.6,940 Q1045.6,987.5 1042.6,1035 Q1041.5,1048.5 1030,1049.2 L900.6,1049.2"/>
<path class="m" d="M905,930.6 L1028,930.6 Q1037,931 1038,941 Q1040.8,987.5 1038,1034 Q1037,1044 1028,1044.4 L905,1044.4Z"/>
<path class="k" d="M900.6,928.4 L1029,928.4"/>
<path class="k" d="M900.6,1046.8 L1029,1046.8"/>
<path class="t" d="M898,987.5 L905,987.5"/>
<rect class="m" x="1056.3" y="932.5" width="16.8" height="110.5" rx="3"/>
<rect class="t" x="1057.9" y="934.2" width="13.6" height="107.1" rx="2.5"/>
<rect class="m" x="1060.3" y="940" width="8.8" height="95.5" rx="1"/>
<path class="t" d="M1057.9,987.5 L1060.3,987.5"/>
<path class="t" d="M1069.1,987.5 L1071.5,987.5"/>
<path class="t" d="M1057.9,934.2 L1060.3,940"/>
<path class="t" d="M1071.5,934.2 L1069.1,940"/>
<path class="t" d="M1057.9,1041.3 L1060.3,1035.5"/>
<path class="t" d="M1071.5,1041.3 L1069.1,1035.5"/>
<rect class="m" x="1076.4" y="932.5" width="16.8" height="110.5" rx="3"/>
<rect class="t" x="1078" y="934.2" width="13.6" height="107.1" rx="2.5"/>
<rect class="m" x="1080.4" y="940" width="8.8" height="95.5" rx="1"/>
<path class="t" d="M1078,987.5 L1080.4,987.5"/>
<path class="t" d="M1089.2,987.5 L1091.6,987.5"/>
<path class="t" d="M1078,934.2 L1080.4,940"/>
<path class="t" d="M1091.6,934.2 L1089.2,940"/>
<path class="t" d="M1078,1041.3 L1080.4,1035.5"/>
<path class="t" d="M1091.6,1041.3 L1089.2,1035.5"/>
<rect class="m" x="1096.6" y="932.5" width="16.8" height="110.5" rx="3"/>
<rect class="t" x="1098.2" y="934.2" width="13.6" height="107.1" rx="2.5"/>
<rect class="m" x="1100.6" y="940" width="8.8" height="95.5" rx="1"/>
<path class="t" d="M1098.2,987.5 L1100.6,987.5"/>
<path class="t" d="M1109.4,987.5 L1111.8,987.5"/>
<path class="t" d="M1098.2,934.2 L1100.6,940"/>
<path class="t" d="M1111.8,934.2 L1109.4,940"/>
<path class="t" d="M1098.2,1041.3 L1100.6,1035.5"/>
<path class="t" d="M1111.8,1041.3 L1109.4,1035.5"/>
<path class="m" d="M1146,899.4 L1138,899.4 Q1124,899.6 1124,915 L1124,1060 Q1124,1075.4 1138,1075.6 L1146,1075.6"/>
<path class="t" d="M1146,901.6 L1140.2,901.6 Q1126.2,901.8 1126.2,917.2 L1126.2,1060 Q1126.2,1073.2 1140.2,1073.4 L1146,1073.4"/>
<path class="m" d="M1146,903.8 L1142.4,903.8 Q1128.4,904 1128.4,919.4 L1128.4,1060 Q1128.4,1071 1142.4,1071.2 L1146,1071.2"/>
<path class="t" d="M1190,1071.2 L1205,1071.2 Q1219,1068 1226,1057"/>
<path class="t" d="M1190,903.8 L1205,903.8 Q1219,907 1226,918"/>
<path class="t" d="M1190,1069.2 L1205,1069.2 Q1219,1066 1224,1057"/>
<path class="t" d="M1190,905.8 L1205,905.8 Q1219,909 1224,918"/>
<path class="t" d="M1145,1071 L1205,1071"/>
<path class="m" d="M1270.6,927.5 L1409,927.5 Q1411.6,932.5 1409,937.5 L1270.6,937.5"/>
<path class="k" d="M1270.6,928.1 L1408,928.1"/>
<path class="t" d="M1270.6,930.5 L1409,930.5"/>
<path class="m" d="M1270.6,933.1 L1409,933.1"/>
<path class="k" d="M1270.6,936.9 L1408,936.9"/>
<path class="t" d="M1407,928.5 L1407,936.5"/>
<path class="m" d="M1270.6,965 L1409,965 Q1411.6,970 1409,975 L1270.6,975"/>
<path class="k" d="M1270.6,965.6 L1408,965.6"/>
<path class="t" d="M1270.6,968 L1409,968"/>
<path class="m" d="M1270.6,970.6 L1409,970.6"/>
<path class="k" d="M1270.6,974.4 L1408,974.4"/>
<path class="t" d="M1407,966 L1407,974"/>
<path class="m" d="M1270.6,1001 L1409,1001 Q1411.6,1006 1409,1011 L1270.6,1011"/>
<path class="k" d="M1270.6,1001.6 L1408,1001.6"/>
<path class="t" d="M1270.6,1004 L1409,1004"/>
<path class="m" d="M1270.6,1006.6 L1409,1006.6"/>
<path class="k" d="M1270.6,1010.4 L1408,1010.4"/>
<path class="t" d="M1407,1002 L1407,1010"/>
<path class="m" d="M1270.6,1037 L1409,1037 Q1411.6,1042 1409,1047 L1270.6,1047"/>
<path class="k" d="M1270.6,1037.6 L1408,1037.6"/>
<path class="t" d="M1270.6,1040 L1409,1040"/>
<path class="m" d="M1270.6,1042.6 L1409,1042.6"/>
<path class="k" d="M1270.6,1046.4 L1408,1046.4"/>
<path class="t" d="M1407,1038 L1407,1046"/>
<rect class="m" x="1280.6" y="942.5" width="81.4" height="18" rx="9"/>
<rect class="m" x="1283" y="945.3" width="75.5" height="12.4" rx="6.2"/>
<path class="t" d="M1286,943.9 L1356,943.9"/>
<path class="t" d="M1286,959.1 L1356,959.1"/>
<rect class="m" x="1280.6" y="978.5" width="81.4" height="18" rx="9"/>
<rect class="m" x="1283" y="981.3" width="75.5" height="12.4" rx="6.2"/>
<path class="t" d="M1286,979.9 L1356,979.9"/>
<path class="t" d="M1286,995.1 L1356,995.1"/>
<rect class="m" x="1280.6" y="1014.7" width="81.4" height="18" rx="9"/>
<rect class="m" x="1283" y="1017.5" width="75.5" height="12.4" rx="6.2"/>
<path class="t" d="M1286,1016.1 L1356,1016.1"/>
<path class="t" d="M1286,1031.3 L1356,1031.3"/>
<path class="m" d="M1320,945.4 L1320,957.6"/>
<path class="m" d="M1320,1017.6 L1320,1029.8"/>
<path class="t" d="M1262.6,987.4 L1412.5,987.4"/>
<path class="m" d="M1358,983 L1320,983 L1320,993.6"/>
<path class="m" d="M1320,988.8 L1358,988.8"/>
<path class="t" d="M1352,948 q3,3.5 0,7"/>
<path class="t" d="M1350.5,949.5 L1353,949.5"/>
<path class="t" d="M1350.5,953.5 L1353,953.5"/>
<path class="t" d="M1226,914.6 L1267.2,945.6"/>
<path class="t" d="M1226,1060.4 L1267.2,1029.4"/>
<rect class="w" x="1412.5" y="853.4" width="4.1" height="268.2"/>
<rect class="w" x="1416.6" y="1053.5" width="7.2" height="14.5" rx="1.5"/>
<path class="w" d="M1416.6,889.4 L1434.4,890 L1434.4,925.5 L1416.6,925.5"/>
<rect class="w" x="1424.6" y="901.2" width="56.4" height="13.4" rx="6.7"/>
<rect class="t" x="1416.6" y="925.5" width="2.8" height="12.5"/>
<rect class="w" x="1416.6" y="938" width="9.9" height="50"/>
<path class="m" d="M1416.6,950 L1426.5,950"/>
<path class="m" d="M1416.6,976 L1426.5,976"/>
<rect class="w" x="1426.5" y="946" width="3.7" height="34"/>
<path class="w" d="M1430.2,936 L1457,936 Q1469,938 1469,951 L1469,975 Q1469,988 1457,990 L1430.2,990Z"/>
<path class="b" d="M1431.2,937.6 L1457.5,937.6 Q1463.5,941.5 1461.5,947 L1431.2,947Z"/>
<path class="b" d="M1431.2,953.4 L1461.5,953.4 Q1464.5,962 1461.5,971 L1431.2,971Z"/>
<path class="b" d="M1431.2,979 L1461.5,979 Q1463.5,984.5 1457.5,988.6 L1431.2,988.6Z"/>
<path class="t" d="M1431.2,950.2 L1461,950.2"/>
<path class="t" d="M1431.2,975 L1461,975"/>
<path class="t" d="M1461.5,947 Q1458.5,950 1461.5,953.4"/>
<path class="t" d="M1461.5,971 Q1458.5,975 1461.5,979"/>
<path class="w" d="M1469,955.6 L1479.6,955.6 C1483,956.33 1494.1,957.77 1500,960 C1505.9,962.23 1509.9,964.73 1515,969 C1520.1,973.27 1528,982.83 1530.6,985.6 L1517,993.6 L1517,993.6 C1515,991.33 1509.5,983.57 1505,980 C1500.5,976.43 1494.23,973.77 1490,972.2 C1485.77,970.63 1481.33,970.87 1479.6,970.6 L1469,970.6"/>
<path class="m" d="M1479.6,955.6 L1479.6,970.6"/>
<circle class="w" cx="1177.8" cy="987" r="84.6"/>
<path class="wy" d="M1145.2,546 L1211.5,546 L1211.5,1024.6 L1196,1034 Q1178,1040 1160.5,1034 L1145.2,1025Z"/>
<path class="m" d="M1167.5,1037 Q1177.5,1046.6 1187.4,1037"/>
<path class="m" d="M1211.4,974.4 Q1221.6,987 1211.4,999.6"/>
<path class="y" d="M1145.2,590.4 L1211.5,590.4"/>
<rect class="y" x="1167" y="722" width="22.4" height="22.5"/>
<circle class="y" cx="1178.2" cy="831" r="17.9"/>
<path class="m" d="M1188.6,816.8 L1188.6,845.4"/>
<path class="m" d="M1191.2,819.2 L1191.2,843"/>
<circle class="m" cx="1178" cy="987.5" r="19"/>
<circle class="k" cx="1178" cy="987.5" r="13.6"/>
<circle class="m" cx="1178" cy="987.5" r="10.8"/>
<path class="m" d="M1178,978.6 L1185.71,983.05 L1185.71,991.95 L1178,996.4 L1170.29,991.95 L1170.29,983.05Z"/>
<path class="wk" d="M1114.4,879.4 C1114.23,876.9 1115.4,873.77 1118,872 C1120.6,870.23 1123.83,869.37 1130,868.8 C1136.17,868.23 1146.67,868.6 1155,868.6 C1163.33,868.6 1173.83,867.98 1180,868.8 C1186.17,869.62 1188.17,870.8 1192,873.5 C1195.83,876.2 1199.67,882.38 1203,885 C1206.33,887.62 1208.17,888.33 1212,889.2 C1215.83,890.07 1221.83,889.65 1226,890.2 C1230.17,890.75 1234.3,890.77 1237,892.5 C1239.7,894.23 1242.03,898.02 1242.2,900.6 C1242.37,903.18 1240.37,906.4 1238,908 C1235.63,909.6 1234.33,909.83 1228,910.2 C1221.67,910.57 1208.67,910.23 1200,910.2 C1191.33,910.17 1181.83,910.87 1176,910 C1170.17,909.13 1168.67,907.83 1165,905 C1161.33,902.17 1157.33,895.57 1154,893 C1150.67,890.43 1148.83,890.23 1145,889.6 C1141.17,888.97 1135.33,889.63 1131,889.2 C1126.67,888.77 1121.77,888.63 1119,887 C1116.23,885.37 1114.57,881.9 1114.4,879.4Z" style="stroke-width:1.9"/>
<circle class="m" cx="1178.1" cy="890" r="17.2"/>
<ellipse class="m" cx="1135.6" cy="879.4" rx="16.9" ry="6.3"/>
<ellipse class="m" cx="1220" cy="900.4" rx="17.6" ry="6.4"/>
</g>
<g id="dims">
<path class="d" d="M26.5,395 L26.5,866"/>
<path class="d" d="M690.5,397 L690.5,864"/>
<path class="d" d="M26,404.5 L690,404.5"/>
<path class="a" d="M26,404.5 L66,394 L66,415Z"/>
<path class="a" d="M690,404.5 L650,415 L650,394Z"/>
<path class="d" d="M86.5,475 L86.5,590"/>
<path class="d" d="M630.5,475 L630.5,590"/>
<path class="d" d="M86,482.5 L630,482.5"/>
<path class="a" d="M86,482.5 L126,472 L126,493Z"/>
<path class="a" d="M630,482.5 L590,493 L590,472Z"/>
<path class="d" d="M897.5,377 L897.5,745"/>
<path class="d" d="M1480.5,377 L1480.5,902"/>
<path class="d" d="M897.5,401.5 L1480.5,401.5"/>
<path class="a" d="M897.5,401.6 L937.5,391.1 L937.5,412.1Z"/>
<path class="a" d="M1480.5,401.6 L1440.5,412.1 L1440.5,391.1Z"/>
<path class="d" d="M1416.5,425 L1416.5,853"/>
<path class="d" d="M897.5,450.5 L1416.5,450.5"/>
<path class="a" d="M897.5,450.6 L937.5,440.1 L937.5,461.1Z"/>
<path class="a" d="M1416.3,450.6 L1376.3,461.1 L1376.3,440.1Z"/>
<path class="d" d="M1145.5,497 L1145.5,540"/>
<path class="d" d="M1211.5,497 L1211.5,540"/>
<path class="d" d="M1145,505.5 L1211,505.5"/>
<path class="a" d="M1145,505.2 L1185,495.4 L1185,515Z"/>
<path class="a" d="M1211,505.2 L1171,515 L1171,495.4Z"/>
<path class="d" d="M1195,546.5 L1575,546.5"/>
<path class="d" d="M897,1230.5 L1574,1230.5"/>
<path class="d" d="M1551.5,546 L1551.5,1230"/>
<path class="a" d="M1551.7,546 L1562.2,586 L1541.2,586Z"/>
<path class="a" d="M1551.7,1230 L1541.2,1190 L1562.2,1190Z"/>
<path class="d" d="M809,745.5 L893,745.5"/>
<path class="d" d="M809,1230.5 L893,1230.5"/>
<path class="d" d="M814.5,745 L814.5,1230"/>
<path class="a" d="M814.4,745 L824.9,785 L803.9,785Z"/>
<path class="a" d="M814.4,1230 L803.9,1190 L824.9,1190Z"/>
<g class="gl" transform="translate(298.5,394)"><g transform="translate(0,0)"><path d="M1.65,-15.750000000000002 V-15.950000000000003 Q1.65,-19.650000000000002 5.35,-19.650000000000002 H11.649999999999999 Q15.35,-19.650000000000002 15.35,-15.950000000000003 V-13.6 Q15.35,-10.7 12.45,-10.7 H6.25"/><path d="M12.45,-10.7 Q15.35,-10.7 15.35,-7.799999999999999 V-5.35 Q15.35,-1.65 11.649999999999999,-1.65 H5.35 Q1.65,-1.65 1.65,-5.35 V-5.55"/></g><g transform="translate(20.7,0)"><path d="M5.35,-19.650000000000002 H11.649999999999999 Q15.35,-19.650000000000002 15.35,-15.950000000000003 V-5.35 Q15.35,-1.65 11.649999999999999,-1.65 H5.35 Q1.65,-1.65 1.65,-5.35 V-15.950000000000003 Q1.65,-19.650000000000002 5.35,-19.650000000000002Z"/></g><g transform="translate(41.4,0)"><path d="M5.35,-19.650000000000002 H11.649999999999999 Q15.35,-19.650000000000002 15.35,-15.950000000000003 V-5.35 Q15.35,-1.65 11.649999999999999,-1.65 H5.35 Q1.65,-1.65 1.65,-5.35 V-15.950000000000003 Q1.65,-19.650000000000002 5.35,-19.650000000000002Z"/></g><g transform="translate(61.15,0)"><path d="M0.7,-3.8 H4.1 V-0.2 L2.3,3.4 H0.3 L1.5,0 H0.7Z" fill="#000" stroke="none"/></g><g transform="translate(68.95,0)"><path d="M5.35,-19.650000000000002 H11.649999999999999 Q15.35,-19.650000000000002 15.35,-15.950000000000003 V-5.35 Q15.35,-1.65 11.649999999999999,-1.65 H5.35 Q1.65,-1.65 1.65,-5.35 V-15.950000000000003 Q1.65,-19.650000000000002 5.35,-19.650000000000002Z"/></g><g transform="translate(97.95,0)"><path d="M1.65,-15.3 V0"/><path d="M1.65,-13.65 H8.5 Q11.75,-13.65 11.75,-10.350000000000001 V0"/><path d="M11.75,-10.350000000000001 Q11.75,-13.65 15,-13.65 H18.6 Q21.85,-13.65 21.85,-10.350000000000001 V0"/></g></g>
<g class="gl" transform="translate(300.1,470.9)"><g transform="translate(0,0)"><path d="M1.65,-15.750000000000002 V-15.950000000000003 Q1.65,-19.650000000000002 5.35,-19.650000000000002 H11.649999999999999 Q15.35,-19.650000000000002 15.35,-15.950000000000003 V-13.6 Q15.35,-10.7 12.45,-10.7 H4.85 Q1.65,-10.7 1.65,-7.499999999999999 V-1.65 H17"/></g><g transform="translate(18.65,0)"><path d="M13,-21.3 V0"/><path d="M13,-19.400000000000002 L1.9,-5.1 H18.6"/></g><g transform="translate(40.95,0)"><path d="M15.35,-15.750000000000002 V-15.950000000000003 Q15.35,-19.650000000000002 11.649999999999999,-19.650000000000002 H5.35 Q1.65,-19.650000000000002 1.65,-15.950000000000003 V-5.35 Q1.65,-1.65 5.35,-1.65 H11.649999999999999 Q15.35,-1.65 15.35,-5.35 V-8.7 Q15.35,-11.6 12.45,-11.6 H1.65"/></g><g transform="translate(60.7,0)"><path d="M0.7,-3.8 H4.1 V-0.2 L2.3,3.4 H0.3 L1.5,0 H0.7Z" fill="#000" stroke="none"/></g><g transform="translate(68.5,0)"><path d="M5.35,-19.650000000000002 H11.649999999999999 Q15.35,-19.650000000000002 15.35,-15.950000000000003 V-5.35 Q15.35,-1.65 11.649999999999999,-1.65 H5.35 Q1.65,-1.65 1.65,-5.35 V-15.950000000000003 Q1.65,-19.650000000000002 5.35,-19.650000000000002Z"/></g><g transform="translate(97.5,0)"><path d="M1.65,-15.3 V0"/><path d="M1.65,-13.65 H8.5 Q11.75,-13.65 11.75,-10.350000000000001 V0"/><path d="M11.75,-10.350000000000001 Q11.75,-13.65 15,-13.65 H18.6 Q21.85,-13.65 21.85,-10.350000000000001 V0"/></g></g>
<g class="gl" transform="translate(1130,391.3)"><g transform="translate(0,0)"><path d="M1.65,-15.750000000000002 V-15.950000000000003 Q1.65,-19.650000000000002 5.35,-19.650000000000002 H11.649999999999999 Q15.35,-19.650000000000002 15.35,-15.950000000000003 V-13.6 Q15.35,-10.7 12.45,-10.7 H4.85 Q1.65,-10.7 1.65,-7.499999999999999 V-1.65 H17"/></g><g transform="translate(20.7,0)"><path d="M15.35,-15.750000000000002 V-15.950000000000003 Q15.35,-19.650000000000002 11.649999999999999,-19.650000000000002 H5.35 Q1.65,-19.650000000000002 1.65,-15.950000000000003 V-5.35 Q1.65,-1.65 5.35,-1.65 H11.649999999999999 Q15.35,-1.65 15.35,-5.35 V-8.7 Q15.35,-11.6 12.45,-11.6 H1.65"/></g><g transform="translate(41.4,0)"><path d="M1.65,-15.750000000000002 V-15.950000000000003 Q1.65,-19.650000000000002 5.35,-19.650000000000002 H11.649999999999999 Q15.35,-19.650000000000002 15.35,-15.950000000000003 V-13.6 Q15.35,-10.7 12.45,-10.7 H6.25"/><path d="M12.45,-10.7 Q15.35,-10.7 15.35,-7.799999999999999 V-5.35 Q15.35,-1.65 11.649999999999999,-1.65 H5.35 Q1.65,-1.65 1.65,-5.35 V-5.55"/></g><g transform="translate(61.15,0)"><path d="M0.7,-3.8 H4.1 V-0.2 L2.3,3.4 H0.3 L1.5,0 H0.7Z" fill="#000" stroke="none"/></g><g transform="translate(68.95,0)"><path d="M5.35,-19.650000000000002 H11.649999999999999 Q15.35,-19.650000000000002 15.35,-15.950000000000003 V-13.6 Q15.35,-10.7 12.45,-10.7 H4.55 Q1.65,-10.7 1.65,-13.6 V-15.950000000000003 Q1.65,-19.650000000000002 5.35,-19.650000000000002Z"/><path d="M4.55,-10.7 H12.45 Q15.35,-10.7 15.35,-7.799999999999999 V-5.35 Q15.35,-1.65 11.649999999999999,-1.65 H5.35 Q1.65,-1.65 1.65,-5.35 V-7.799999999999999 Q1.65,-10.7 4.55,-10.7Z"/></g><g transform="translate(97.95,0)"><path d="M1.65,-15.3 V0"/><path d="M1.65,-13.65 H8.5 Q11.75,-13.65 11.75,-10.350000000000001 V0"/><path d="M11.75,-10.350000000000001 Q11.75,-13.65 15,-13.65 H18.6 Q21.85,-13.65 21.85,-10.350000000000001 V0"/></g></g>
<g class="gl" transform="translate(1098,440.8)"><g transform="translate(0,0)"><path d="M1.65,-15.750000000000002 V-15.950000000000003 Q1.65,-19.650000000000002 5.35,-19.650000000000002 H11.649999999999999 Q15.35,-19.650000000000002 15.35,-15.950000000000003 V-13.6 Q15.35,-10.7 12.45,-10.7 H4.85 Q1.65,-10.7 1.65,-7.499999999999999 V-1.65 H17"/></g><g transform="translate(20.7,0)"><path d="M1.65,-15.750000000000002 V-15.950000000000003 Q1.65,-19.650000000000002 5.35,-19.650000000000002 H11.649999999999999 Q15.35,-19.650000000000002 15.35,-15.950000000000003 V-13.6 Q15.35,-10.7 12.45,-10.7 H6.25"/><path d="M12.45,-10.7 Q15.35,-10.7 15.35,-7.799999999999999 V-5.35 Q15.35,-1.65 11.649999999999999,-1.65 H5.35 Q1.65,-1.65 1.65,-5.35 V-5.55"/></g><g transform="translate(39.35,0)"><path d="M13,-21.3 V0"/><path d="M13,-19.400000000000002 L1.9,-5.1 H18.6"/></g><g transform="translate(60.7,0)"><path d="M0.7,-3.8 H4.1 V-0.2 L2.3,3.4 H0.3 L1.5,0 H0.7Z" fill="#000" stroke="none"/></g><g transform="translate(68.5,0)"><path d="M5.35,-19.650000000000002 H11.649999999999999 Q15.35,-19.650000000000002 15.35,-15.950000000000003 V-13.6 Q15.35,-10.7 12.45,-10.7 H4.55 Q1.65,-10.7 1.65,-13.6 V-15.950000000000003 Q1.65,-19.650000000000002 5.35,-19.650000000000002Z"/><path d="M4.55,-10.7 H12.45 Q15.35,-10.7 15.35,-7.799999999999999 V-5.35 Q15.35,-1.65 11.649999999999999,-1.65 H5.35 Q1.65,-1.65 1.65,-5.35 V-7.799999999999999 Q1.65,-10.7 4.55,-10.7Z"/></g><g transform="translate(97.5,0)"><path d="M1.65,-15.3 V0"/><path d="M1.65,-13.65 H8.5 Q11.75,-13.65 11.75,-10.350000000000001 V0"/><path d="M11.75,-10.350000000000001 Q11.75,-13.65 15,-13.65 H18.6 Q21.85,-13.65 21.85,-10.350000000000001 V0"/></g></g>
<g class="gl" transform="translate(1129.3,493.9)"><g transform="translate(0,0)"><path d="M1.65,-15.750000000000002 V-15.950000000000003 Q1.65,-19.650000000000002 5.35,-19.650000000000002 H11.649999999999999 Q15.35,-19.650000000000002 15.35,-15.950000000000003 V-13.6 Q15.35,-10.7 12.45,-10.7 H6.25"/><path d="M12.45,-10.7 Q15.35,-10.7 15.35,-7.799999999999999 V-5.35 Q15.35,-1.65 11.649999999999999,-1.65 H5.35 Q1.65,-1.65 1.65,-5.35 V-5.55"/></g><g transform="translate(20.7,0)"><path d="M5.35,-19.650000000000002 H11.649999999999999 Q15.35,-19.650000000000002 15.35,-15.950000000000003 V-5.35 Q15.35,-1.65 11.649999999999999,-1.65 H5.35 Q1.65,-1.65 1.65,-5.35 V-15.950000000000003 Q1.65,-19.650000000000002 5.35,-19.650000000000002Z"/></g><g transform="translate(40.45,0)"><path d="M0.7,-3.8 H4.1 V-0.2 L2.3,3.4 H0.3 L1.5,0 H0.7Z" fill="#000" stroke="none"/></g><g transform="translate(48.25,0)"><path d="M5.35,-19.650000000000002 H11.649999999999999 Q15.35,-19.650000000000002 15.35,-15.950000000000003 V-5.35 Q15.35,-1.65 11.649999999999999,-1.65 H5.35 Q1.65,-1.65 1.65,-5.35 V-15.950000000000003 Q1.65,-19.650000000000002 5.35,-19.650000000000002Z"/></g><g transform="translate(77.25,0)"><path d="M1.65,-15.3 V0"/><path d="M1.65,-13.65 H8.5 Q11.75,-13.65 11.75,-10.350000000000001 V0"/><path d="M11.75,-10.350000000000001 Q11.75,-13.65 15,-13.65 H18.6 Q21.85,-13.65 21.85,-10.350000000000001 V0"/></g></g>
<g class="gl" transform="translate(1541.6,947) rotate(-90)"><g transform="translate(0,0)"><path d="M1.65,-15.750000000000002 V-15.950000000000003 Q1.65,-19.650000000000002 5.35,-19.650000000000002 H11.649999999999999 Q15.35,-19.650000000000002 15.35,-15.950000000000003 V-13.6 Q15.35,-10.7 12.45,-10.7 H6.25"/><path d="M12.45,-10.7 Q15.35,-10.7 15.35,-7.799999999999999 V-5.35 Q15.35,-1.65 11.649999999999999,-1.65 H5.35 Q1.65,-1.65 1.65,-5.35 V-5.55"/></g><g transform="translate(20.7,0)"><path d="M5.35,-19.650000000000002 H11.649999999999999 Q15.35,-19.650000000000002 15.35,-15.950000000000003 V-5.35 Q15.35,-1.65 11.649999999999999,-1.65 H5.35 Q1.65,-1.65 1.65,-5.35 V-15.950000000000003 Q1.65,-19.650000000000002 5.35,-19.650000000000002Z"/></g><g transform="translate(41.4,0) rotate(180 8.5 -10.65)"><path d="M15.35,-15.750000000000002 V-15.950000000000003 Q15.35,-19.650000000000002 11.649999999999999,-19.650000000000002 H5.35 Q1.65,-19.650000000000002 1.65,-15.950000000000003 V-5.35 Q1.65,-1.65 5.35,-1.65 H11.649999999999999 Q15.35,-1.65 15.35,-5.35 V-8.7 Q15.35,-11.6 12.45,-11.6 H1.65"/></g><g transform="translate(61.15,0)"><path d="M0.7,-3.8 H4.1 V-0.2 L2.3,3.4 H0.3 L1.5,0 H0.7Z" fill="#000" stroke="none"/></g><g transform="translate(68.95,0)"><path d="M5.35,-19.650000000000002 H11.649999999999999 Q15.35,-19.650000000000002 15.35,-15.950000000000003 V-5.35 Q15.35,-1.65 11.649999999999999,-1.65 H5.35 Q1.65,-1.65 1.65,-5.35 V-15.950000000000003 Q1.65,-19.650000000000002 5.35,-19.650000000000002Z"/></g><g transform="translate(97.95,0)"><path d="M1.65,-15.3 V0"/><path d="M1.65,-13.65 H8.5 Q11.75,-13.65 11.75,-10.350000000000001 V0"/><path d="M11.75,-10.350000000000001 Q11.75,-13.65 15,-13.65 H18.6 Q21.85,-13.65 21.85,-10.350000000000001 V0"/></g></g>
<g class="gl" transform="translate(804.5,1042) rotate(-90)"><g transform="translate(0,0)"><path d="M1.65,-15.750000000000002 V-15.950000000000003 Q1.65,-19.650000000000002 5.35,-19.650000000000002 H11.649999999999999 Q15.35,-19.650000000000002 15.35,-15.950000000000003 V-13.6 Q15.35,-10.7 12.45,-10.7 H4.85 Q1.65,-10.7 1.65,-7.499999999999999 V-1.65 H17"/></g><g transform="translate(21.1,0)"><path d="M8.85,-21.3 V0"/><path d="M8.25,-20.0 L1.2,-13.3"/></g><g transform="translate(37.2,0) rotate(180 8.5 -10.65)"><path d="M15.35,-15.750000000000002 V-15.950000000000003 Q15.35,-19.650000000000002 11.649999999999999,-19.650000000000002 H5.35 Q1.65,-19.650000000000002 1.65,-15.950000000000003 V-5.35 Q1.65,-1.65 5.35,-1.65 H11.649999999999999 Q15.35,-1.65 15.35,-5.35 V-8.7 Q15.35,-11.6 12.45,-11.6 H1.65"/></g><g transform="translate(56.95,0)"><path d="M0.7,-3.8 H4.1 V-0.2 L2.3,3.4 H0.3 L1.5,0 H0.7Z" fill="#000" stroke="none"/></g><g transform="translate(61.45,0)"><path d="M8.85,-21.3 V0"/><path d="M8.25,-20.0 L1.2,-13.3"/></g><g transform="translate(88.05,0)"><path d="M1.65,-15.3 V0"/><path d="M1.65,-13.65 H8.5 Q11.75,-13.65 11.75,-10.350000000000001 V0"/><path d="M11.75,-10.350000000000001 Q11.75,-13.65 15,-13.65 H18.6 Q21.85,-13.65 21.85,-10.350000000000001 V0"/></g></g>
</g>
</svg>
</body></html>
